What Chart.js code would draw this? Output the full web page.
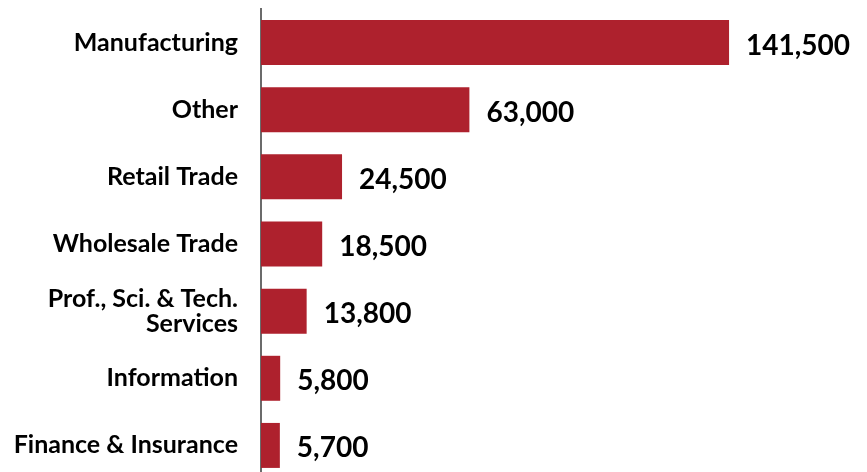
<!DOCTYPE html>
<html>
<head>
<meta charset="utf-8">
<script src="https://cdn.jsdelivr.net/npm/chart.js@4"></script>
<style>
  html, body { margin: 0; padding: 0; background: #fff; overflow: hidden; }
  #wrap { width: 867px; height: 479px; position: relative; }
</style>
</head>
<body>
<div id="wrap"><canvas id="chart-sectors"></canvas></div>
<script>
// Données
const sectors = [
  'Manufacturing',
  'Other',
  'Retail Trade',
  'Wholesale Trade',
  ['Prof., Sci. & Tech.', 'Services'],
  'Information',
  'Finance & Insurance',
];
const jobs = [141500, 63000, 24500, 18500, 13800, 5800, 5700];

const BAR_RED = '#AE212D';
const FONT = 'Lato, "Open Sans", sans-serif';

// Étiquettes de valeur à droite des barres
const valueLabels = {
  id: 'valueLabels',
  afterDatasetsDraw(chart) {
    const { ctx } = chart;
    const meta = chart.getDatasetMeta(0);
    ctx.save();
    ctx.font = 'bold 28px ' + FONT;
    ctx.fillStyle = '#000';
    ctx.textAlign = 'left';
    ctx.textBaseline = 'middle';
    meta.data.forEach((bar, i) => {
      ctx.fillText(jobs[i].toLocaleString('en-US'), bar.x + 17, bar.y + 3);
    });
    ctx.restore();
  },
};

new Chart(document.getElementById('chart-sectors'), {
  type: 'bar',
  data: {
    labels: sectors,
    datasets: [{
      data: jobs,
      backgroundColor: BAR_RED,
      borderWidth: 0,
      categoryPercentage: 1,
      barPercentage: 0.67,
    }],
  },
  options: {
    indexAxis: 'y',
    responsive: true,
    maintainAspectRatio: false,
    animation: false,
    layout: { padding: { top: 9, right: 0, bottom: 0, left: 0 } },
    plugins: { legend: { display: false }, tooltip: { enabled: false } },
    scales: {
      x: {
        display: false,
        min: 0,
        max: 183200,
      },
      y: {
        grid: { display: false, drawTicks: false },
        border: { display: true, color: '#6b6b6b', width: 2 },
        ticks: {
          color: '#000',
          padding: 23,
          font: { family: FONT, size: 25, weight: 'bold', lineHeight: 1.0 },
        },
        afterFit(scale) {
          scale.width = 261;
          scale.paddingTop = 0;
          scale.paddingBottom = 0;
        },
      },
    },
  },
  plugins: [valueLabels],
});
</script>
</body>
</html>
